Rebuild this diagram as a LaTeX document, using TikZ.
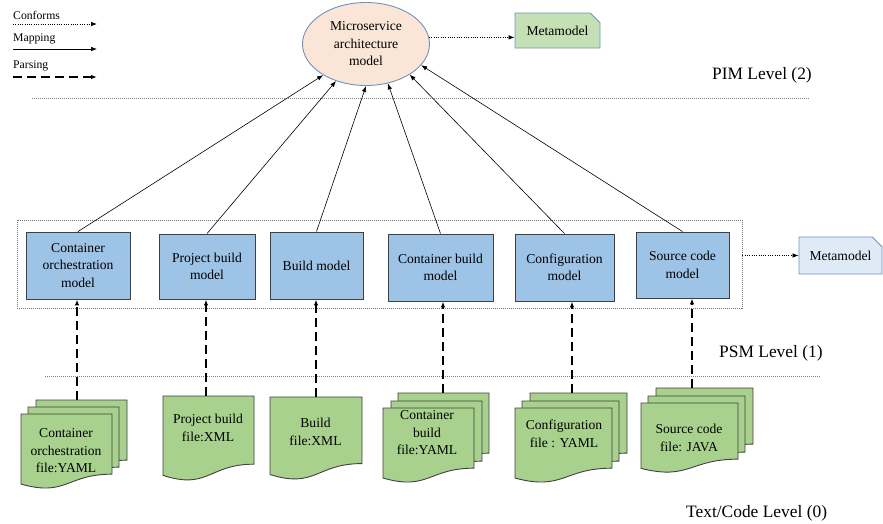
\documentclass[tikz,border=0pt]{standalone}
\usepackage{fontspec}
\setmainfont{Liberation Serif}
\usetikzlibrary{arrows.meta,shapes.geometric,shapes.misc}

\definecolor{boxblue}{HTML}{9DC3E6}
\definecolor{docgreen}{HTML}{A9D18E}
\definecolor{metagreen}{HTML}{C5E0B4}
\definecolor{metablue}{HTML}{DEEBF7}
\definecolor{peach}{HTML}{FBE5D6}
\definecolor{rimblue}{HTML}{6F93C2}
\definecolor{edgegray}{HTML}{404040}

\newcommand{\bodyfont}{\fontsize{13.6}{17.5}\selectfont}
\newcommand{\levelfont}{\fontsize{17.4}{20}\selectfont}
\newcommand{\keyfont}{\fontsize{11.7}{14}\selectfont}

% document sheet: top-left x, top y, width, height (y grows downward)
\newcommand{\docsheet}[4]{%
  \filldraw[docsheetstyle] (#1,#2) -- ++(#3,0) -- ++(0,0.802*#4)
    .. controls +(-0.5*#3,0) and +(0.5*#3,0.173*#4) .. (#1,#2+0.934*#4) -- cycle;}

\tikzset{
  docsheetstyle/.style={fill=docgreen, draw=edgegray, line width=0.9pt},
  model/.style={draw=edgegray, fill=boxblue, line width=0.9pt, inner sep=0pt,
    align=center, font=\bodyfont},
  doctext/.style={align=center, font=\bodyfont, inner sep=0pt},
  metabox/.style={chamfered rectangle, chamfered rectangle corners=north east,
    chamfered rectangle xsep=5pt, chamfered rectangle ysep=5pt,
    draw=rimblue, line width=0.9pt, inner sep=0pt, font=\bodyfont},
  maparrow/.style={-{Latex[length=6pt,width=4.5pt]}, line width=0.6pt},
  parsearrow/.style={-{Latex[length=6pt,width=4.5pt]}, line width=1.7pt,
    dash pattern=on 9pt off 5pt},
  conformarrow/.style={-{Latex[length=6pt,width=4.5pt]}, line width=0.7pt,
    dash pattern=on 1pt off 1.3pt},
  levelline/.style={draw=gray, line width=0.9pt, dash pattern=on 1pt off 1pt},
  grouprect/.style={draw=gray!90!black, line width=0.9pt, dash pattern=on 1pt off 1pt},
  leveltext/.style={anchor=base west, font=\levelfont, inner sep=0pt},
  keytext/.style={anchor=base west, font=\keyfont, inner sep=0pt},
}

\begin{document}
\begin{tikzpicture}[x=1pt,y=-1pt]
\useasboundingbox (0,0) rectangle (883,523);

% legend
\node[keytext] (kconf) at (13,19.3) {Conforms};
\node[keytext] (kmap)  at (13,41.7) {Mapping};
\node[keytext] (kpar)  at (13,68)   {Parsing};
\coordinate (kc1) at (13,24); \coordinate (kc2) at (97,24);
\coordinate (km1) at (13,49); \coordinate (km2) at (97,49);
\coordinate (kp1) at (13,77); \coordinate (kp2) at (97,77);
\draw[conformarrow] (kc1) -- (kc2);
\draw[maparrow] (km1) -- (km2);
\draw[parsearrow] (kp1) -- (kp2);

% PIM level
\node[ellipse, draw=rimblue, fill=peach, line width=0.9pt, minimum width=127pt,
  minimum height=83pt, inner sep=0pt, align=center, font=\bodyfont]
  (ell) at (366,44) {Microservice\\architecture\\model};
\node[metabox, fill=metagreen, minimum width=85pt, minimum height=35pt]
  (mm1) at (557.5,30.5) {Metamodel};
\draw[conformarrow] (ell.6) -- (ell.6 -| mm1.west);

\node[leveltext] (pim) at (712,79) {PIM Level (2)};
\coordinate (l1a) at (32,98); \coordinate (l1b) at (810,98);
\draw[levelline] (l1a) -- (l1b);

% PSM level
\node[grouprect, minimum width=725pt, minimum height=88pt, inner sep=0pt]
  (grp) at (379.5,264) {};
\node[model, minimum width=104pt, minimum height=67pt] (m1) at (78,265.5)
  {Container\\orchestration\\model};
\node[model, minimum width=96pt, minimum height=65pt] (m2) at (207,266.5)
  {Project build\\model};
\node[model, minimum width=93pt, minimum height=67pt] (m3) at (316.5,265.5)
  {Build model};
\node[model, minimum width=105pt, minimum height=67pt] (m4) at (440.5,267.5)
  {Container build\\model};
\node[model, minimum width=99pt, minimum height=67pt] (m5) at (564.5,267.5)
  {Configuration\\model};
\node[model, minimum width=93pt, minimum height=66pt] (m6) at (682.5,265)
  {Source code\\model};

\node[metabox, fill=metablue, minimum width=83pt, minimum height=37pt]
  (mm2) at (840.5,255.5) {Metamodel};
\draw[conformarrow] (grp.east |- mm2) -- (mm2.west);

\draw[maparrow] (m1.north) -- (ell.216.9);
\draw[maparrow] (m2.north) -- (ell.231.7);
\draw[maparrow] (m3.north) -- (ell.270);
\draw[maparrow] (m4.north) -- (ell.299.4);
\draw[maparrow] (m5.north) -- (ell.325);
\draw[maparrow] (m6.north) -- (ell.339.3);

\node[leveltext] (psm) at (719,357) {PSM Level (1)};
\coordinate (l2a) at (45,376); \coordinate (l2b) at (821,376);
\draw[levelline] (l2a) -- (l2b);

% text / code level: source documents
\docsheet{36}{400}{91}{75}
\docsheet{28}{407}{91}{75}
\docsheet{21}{414}{91}{75}
\node[doctext] (f1) at (66,451) {Container\\orchestration\\file:YAML};

\docsheet{163}{396}{91}{85}
\node[doctext] (f2) at (208,428) {Project build\\file:XML};

\docsheet{270}{397}{92}{83}
\node[doctext] (f3) at (315.5,432) {Build\\file:XML};

\docsheet{398}{393}{91}{75}
\docsheet{391}{401}{91}{75}
\docsheet{383}{408}{91}{75}
\node[doctext] (f4) at (427,433) {Container\\build\\file:YAML};

\docsheet{530}{393}{97}{75}
\docsheet{522}{401}{97}{75}
\docsheet{515}{408}{97}{75}
\node[doctext] (f5) at (564,434) {Configuration\\file : YAML};

\docsheet{656}{388}{97}{70}
\docsheet{648}{396}{97}{70}
\docsheet{641}{403}{97}{70}
\node[doctext] (f6) at (689,438) {Source code\\file: JAVA};

\node[leveltext] (tcl) at (686,517) {Text/Code Level (0)};

% parsing connectors from each document up to its model
\coordinate (d1) at (77,400);
\coordinate (d2) at (206,396);
\coordinate (d3) at (316,397);
\coordinate (d4) at (443,393);
\coordinate (d5) at (572,393);
\coordinate (d6) at (692,388);
\draw[parsearrow] (d1) -- (d1 |- m1.south);
\draw[parsearrow] (d2) -- (d2 |- m2.south);
\draw[parsearrow] (d3) -- (d3 |- m3.south);
\draw[parsearrow] (d4) -- (d4 |- m4.south);
\draw[parsearrow] (d5) -- (d5 |- m5.south);
\draw[parsearrow] (d6) -- (d6 |- m6.south);
\end{tikzpicture}
\end{document}
